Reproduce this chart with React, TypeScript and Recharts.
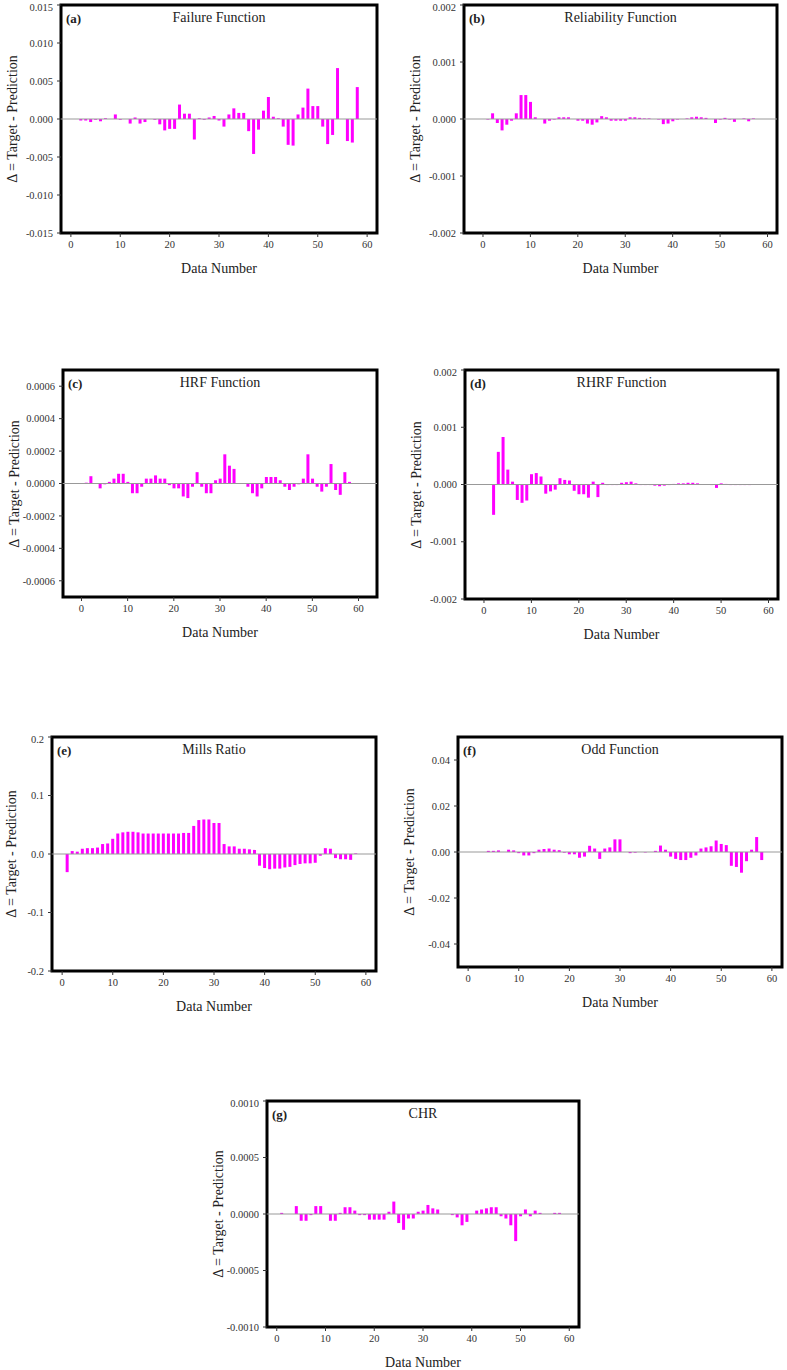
import React from 'react';
import { BarChart, Bar, XAxis, YAxis, ReferenceLine, ReferenceArea } from 'recharts';

const X_TICKS = [0, 10, 20, 30, 40, 50, 60];

// (a) Failure Function, data number 1..58
const failureValues = [
  0, -0.0002, -0.0002, -0.0004, -0.0001, -0.0003, 0.0001, 0, 0.0006, -0.0001,
  0, -0.0006, 0.0002, -0.0006, -0.0004, 0, -0.0001, -0.0007, -0.0015, -0.0013,
  -0.0013, 0.0019, 0.0007, 0.0007, -0.0027, 0.0001, -0.0001, 0.0002, 0.0004, -0.0002,
  -0.001, 0.0006, 0.0014, 0.0008, 0.0008, -0.0016, -0.0046, -0.0014, 0.0011, 0.0029,
  0.0003, 0.0001, -0.001, -0.0034, -0.0035, 0.0006, 0.0015, 0.004, 0.0017, 0.0017,
  -0.001, -0.0033, -0.0021, 0.0067, 0, -0.0029, -0.0031, 0.0042,
];

// (b) Reliability Function, 1..57
const reliabilityValues = [
  -0.00001, 0.0001, -0.00007, -0.0002, -0.0001, -0.00003, 0.0001, 0.00042, 0.00042, 0.0003,
  0.00003, 0, -0.00008, -0.00003, -0.00001, 0.00003, 0.00003, 0.00003, 0, -0.00003,
  -0.00003, -0.00008, -0.0001, -0.00006, 0.00005, 0.00003, -0.00003, -0.00003, -0.00003, -0.00003,
  0.00003, 0.00003, 0.00002, 0.00001, 0.00001, 0, -0.00001, -0.00009, -0.00008, -0.00004,
  -0.00001, 0, 0.00001, 0.00003, 0.00004, 0.00003, 0.00002, 0, -0.00007, -0.00001,
  0.00002, -0.00001, -0.00005, 0, 0.00001, -0.00004, 0.00001,
];

// (c) HRF Function, 1..59
const hrfValues = [
  0.000005, 0.000045, 0, -0.00003, -0.000005, 0.00001, 0.00003, 0.00006, 0.00006, 0.00001,
  -0.00006, -0.00006, -0.00002, 0.00003, 0.00003, 0.00005, 0.00003, 0.00003, -0.00001, -0.00003,
  -0.00003, -0.00008, -0.00009, -0.00002, 0.00007, -0.00002, -0.00006, -0.00006, 0.00002, 0.00003,
  0.00018, 0.00011, 0.00009, 0, 0, -0.00002, -0.00006, -0.00008, -0.00003, 0.00004,
  0.00004, 0.00004, 0.00002, -0.00002, -0.00004, -0.00002, -0.000005, 0.00003, 0.00018, 0.00003,
  -0.00002, -0.00005, -0.00002, 0.00012, -0.00004, -0.00007, 0.00007, 0.00001, 0,
];

// (d) RHRF Function, 1..57
const rhrfValues = [
  0, -0.00053, 0.00057, 0.00083, 0.00026, 0.00005, -0.00027, -0.00032, -0.00028, 0.00018,
  0.0002, 0.00014, -0.00016, -0.00012, -0.00009, 0.00011, 0.00008, 0.00007, -0.00011, -0.00017,
  -0.00017, -0.00023, 0.00005, -0.00022, 0.00003, -0.00001, -0.00001, -0.00001, 0.00003, 0.00004,
  0.00005, 0.00002, -0.00001, -0.00001, -0.00001, -0.00002, -0.00003, -0.00002, -0.00001, 0.00001,
  0.00002, 0.00002, 0.00003, 0.00003, 0.00002, 0, 0, -0.00001, -0.00006, 0.00002,
  0.00001, -0.00001, -0.00001, -0.00001, -0.00001, -0.00001, 0,
];

// (e) Mills Ratio, 1..59
const millsValues = [
  -0.031, 0.005, 0.004, 0.009, 0.01, 0.01, 0.011, 0.017, 0.018, 0.026,
  0.035, 0.037, 0.038, 0.038, 0.037, 0.035, 0.035, 0.035, 0.035, 0.035,
  0.035, 0.035, 0.035, 0.036, 0.036, 0.048, 0.058, 0.059, 0.059, 0.053,
  0.053, 0.017, 0.013, 0.013, 0.009, 0.009, 0.008, 0.007, -0.02, -0.024,
  -0.026, -0.025, -0.025, -0.023, -0.022, -0.019, -0.017, -0.016, -0.016, -0.015,
  -0.003, 0.01, 0.009, -0.007, -0.009, -0.009, -0.01, 0.001, 0,
];

// (f) Odd Function, 1..59
const oddValues = [
  0, 0, 0, 0.0005, 0.0005, 0.0007, 0, 0.001, 0.0007, -0.0005,
  -0.0015, -0.0015, -0.0005, 0.001, 0.0013, 0.0015, 0.001, 0.0008, -0.0003, -0.001,
  -0.001, -0.0025, -0.002, 0.0027, 0.0015, -0.003, 0.0015, 0.002, 0.0055, 0.0055,
  0, -0.0005, -0.0003, 0, -0.0002, 0, 0.0005, 0.0028, 0.001, -0.002,
  -0.003, -0.0035, -0.0035, -0.0025, -0.0015, 0.0015, 0.002, 0.0025, 0.005, 0.0035,
  0.003, -0.006, -0.0065, -0.009, -0.004, 0.001, 0.0065, -0.0035, 0,
];

// (g) CHR, 1..58
const chrValues = [
  0.00001, 0, 0, 0.00007, -0.00006, -0.00006, -0.00001, 0.00007, 0.00007, 0,
  -0.00006, -0.00006, 0.00001, 0.00006, 0.00006, 0.00003, -0.00001, -0.00001, -0.00005, -0.00005,
  -0.00005, -0.00005, 0.00002, 0.00011, -0.00008, -0.00014, -0.00004, -0.00004, 0.00002, 0.00003,
  0.00008, 0.00005, 0.00004, 0, 0, -0.00001, -0.00003, -0.0001, -0.00007, 0,
  0.00003, 0.00004, 0.00005, 0.00006, 0.00006, -0.00002, -0.00004, -0.0001, -0.00024, -0.00002,
  0.00004, -0.00002, 0.00003, 0.00001, 0, 0, 0.00001, 0.00001,
];

const FONT = '"Liberation Serif", "Times New Roman", serif';
const Y_AXIS_W = 50;
const TOP_PAD = 3;

type Panel = {
  tag: string;
  title: string;
  values: number[];
  left: number;
  top: number;
  w: number;
  h: number;
  xDomain: [number, number];
  yDomain: [number, number];
  yTicks: number[];
  digits: number;
};

const panels: Panel[] = [
  { tag: '(a)', title: 'Failure Function', values: failureValues, left: 61, top: 5, w: 316, h: 228,
    xDomain: [-2, 62], yDomain: [-0.015, 0.015], yTicks: [-0.015, -0.01, -0.005, 0, 0.005, 0.01, 0.015], digits: 3 },
  { tag: '(b)', title: 'Reliability Function', values: reliabilityValues, left: 464, top: 5, w: 313, h: 228,
    xDomain: [-4, 62], yDomain: [-0.002, 0.002], yTicks: [-0.002, -0.001, 0, 0.001, 0.002], digits: 3 },
  { tag: '(c)', title: 'HRF Function', values: hrfValues, left: 63, top: 370, w: 314, h: 227,
    xDomain: [-4, 64], yDomain: [-0.0007, 0.0007], yTicks: [-0.0006, -0.0004, -0.0002, 0, 0.0002, 0.0004, 0.0006], digits: 4 },
  { tag: '(d)', title: 'RHRF Function', values: rhrfValues, left: 465, top: 370, w: 313, h: 229,
    xDomain: [-4, 62], yDomain: [-0.002, 0.002], yTicks: [-0.002, -0.001, 0, 0.001, 0.002], digits: 3 },
  { tag: '(e)', title: 'Mills Ratio', values: millsValues, left: 52, top: 737, w: 324, h: 234,
    xDomain: [-2, 62], yDomain: [-0.2, 0.2], yTicks: [-0.2, -0.1, 0, 0.1, 0.2], digits: 1 },
  { tag: '(f)', title: 'Odd Function', values: oddValues, left: 458, top: 737, w: 324, h: 230,
    xDomain: [-2, 62], yDomain: [-0.05, 0.05], yTicks: [-0.04, -0.02, 0, 0.02, 0.04], digits: 2 },
  { tag: '(g)', title: 'CHR', values: chrValues, left: 267, top: 1101, w: 312, h: 226,
    xDomain: [-2, 62], yDomain: [-0.001, 0.001], yTicks: [-0.001, -0.0005, 0, 0.0005, 0.001], digits: 4 },
];

const PanelChart: React.FC<{ p: Panel }> = ({ p }) => {
  const data = p.values.map((v, i) => ({ n: i + 1, v }));
  const bottom = p.top + p.h;
  const cx = p.left + p.w / 2;
  return (
    <>
      <div style={{ position: 'absolute', left: p.left - Y_AXIS_W, top: p.top - TOP_PAD }}>
        <BarChart
          width={Y_AXIS_W + p.w + 6}
          height={TOP_PAD + p.h + 30}
          data={data}
          margin={{ top: TOP_PAD, right: 6, left: 0, bottom: 0 }}
        >
          <XAxis
            type="number"
            dataKey="n"
            domain={p.xDomain}
            ticks={X_TICKS}
            allowDataOverflow
            axisLine={false}
            tickLine={{ stroke: '#333' }}
            tickSize={4}
            tickMargin={4}
            height={30}
            tick={{ fontSize: 10.5, fill: '#333', fontFamily: FONT }}
          />
          <YAxis
            type="number"
            domain={p.yDomain}
            ticks={p.yTicks}
            allowDataOverflow
            axisLine={false}
            tickLine={{ stroke: '#333' }}
            tickSize={4}
            tickMargin={4}
            width={Y_AXIS_W}
            tickFormatter={(t: number) => t.toFixed(p.digits)}
            tick={{ fontSize: 10.5, fill: '#333', fontFamily: FONT }}
          />
          <ReferenceLine y={0} stroke="#999" strokeWidth={1} />
          <Bar dataKey="v" fill="#ff00ff" barSize={3} isAnimationActive={false} />
          <ReferenceArea
            x1={p.xDomain[0]}
            x2={p.xDomain[1]}
            y1={p.yDomain[0]}
            y2={p.yDomain[1]}
            fill="none"
            fillOpacity={0}
            stroke="#000"
            strokeWidth={3}
          />
        </BarChart>
      </div>
      <div style={{ position: 'absolute', left: p.left + 5, top: p.top + 6, fontFamily: FONT, fontSize: 13, fontWeight: 'bold', color: '#222' }}>
        {p.tag}
      </div>
      <div style={{ position: 'absolute', left: cx - 100, width: 200, top: p.top + 5, textAlign: 'center', fontFamily: FONT, fontSize: 14, color: '#222' }}>
        {p.title}
      </div>
      <div style={{ position: 'absolute', left: cx - 100, width: 200, top: bottom + 28, textAlign: 'center', fontFamily: FONT, fontSize: 14, color: '#222' }}>
        Data Number
      </div>
      <div
        style={{
          position: 'absolute',
          left: Math.max(p.left - 48, 12) - 100,
          top: p.top + p.h / 2 - 8,
          width: 200,
          textAlign: 'center',
          transform: 'rotate(-90deg)',
          fontFamily: FONT,
          fontSize: 14,
          color: '#222',
          whiteSpace: 'nowrap',
        }}
      >
        Δ = Target - Prediction
      </div>
    </>
  );
};

export default function App() {
  return (
    <div style={{ position: 'absolute', left: 0, top: 0, width: 787, height: 1370, background: '#fff', overflow: 'hidden' }}>
      {panels.map((p) => (
        <PanelChart key={p.tag} p={p} />
      ))}
    </div>
  );
}
